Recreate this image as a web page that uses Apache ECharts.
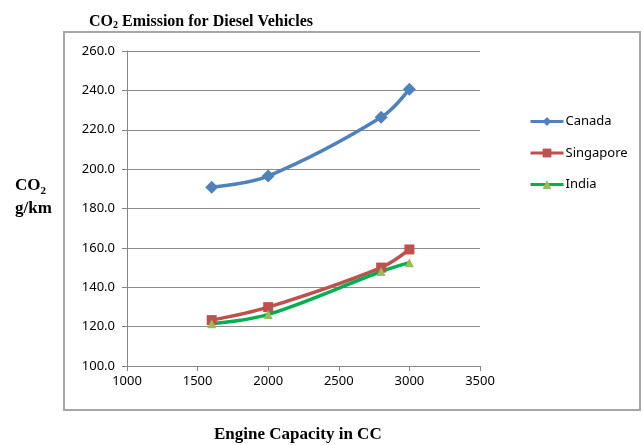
<!DOCTYPE html>
<html>
<head>
<meta charset="utf-8">
<script src="https://cdn.jsdelivr.net/npm/echarts@6/dist/echarts.min.js"></script>
<style>
  html, body { margin: 0; padding: 0; background: #fff; }
  #chart { width: 644px; height: 445px; }
</style>
</head>
<body>
<div id="chart"></div>
<script>
// Engine capacity (cc) and CO2 emissions (g/km) per country
const engineCC = [1600, 2000, 2800, 3000];
const canada = [190.8, 196.5, 226.3, 240.6];
const singapore = [123.3, 129.9, 150.0, 159.2];
const india = [121.5, 126.2, 148.0, 152.5];
const seriesNames = ['Canada', 'Singapore', 'India'];

function pairs(vals) {
  return engineCC.map((x, i) => [x, vals[i]]);
}

const serif = '"Liberation Serif", "Times New Roman", serif';
const sans = '"Noto Sans", "Open Sans", sans-serif';

const chart = echarts.init(document.getElementById('chart'), null, { renderer: 'canvas' });

chart.setOption({
  animation: false,
  backgroundColor: '#ffffff',
  title: {
    text: '{b|CO}{s|2}{b| Emission for Diesel Vehicles}',
    left: 84,
    top: 8,
    textStyle: {
      rich: {
        b: { fontFamily: serif, fontWeight: 'bold', fontSize: 16, color: '#000' },
        s: { fontFamily: serif, fontWeight: 'bold', fontSize: 10, color: '#000', verticalAlign: 'bottom', padding: [7, 0, 0, 0] }
      }
    }
  },
  graphic: [
    {
      type: 'rect',
      shape: { x: 64, y: 32, width: 576, height: 378 },
      style: { fill: 'none', stroke: '#a6a6a6', lineWidth: 2 },
      z: -1
    },
    {
      type: 'text',
      left: 15,
      top: 177,
      style: {
        text: '{b|CO}{s|2}\n{b|g/km}',
        align: 'center',
        rich: {
          b: { fontFamily: serif, fontWeight: 'bold', fontSize: 17, color: '#000', lineHeight: 23 },
          s: { fontFamily: serif, fontWeight: 'bold', fontSize: 11, color: '#000', verticalAlign: 'bottom', lineHeight: 23 }
        }
      }
    },
    {
      type: 'text',
      left: 214,
      top: 426,
      style: {
        text: 'Engine Capacity in CC',
        fontFamily: serif,
        fontWeight: 'bold',
        fontSize: 17,
        fill: '#000'
      }
    }
  ],
  legend: {
    orient: 'vertical',
    left: 524,
    top: 110,
    itemWidth: 33,
    itemHeight: 11,
    itemGap: 18.5,
    lineStyle: { width: 3 },
    textStyle: { fontFamily: sans, fontSize: 13, color: '#000', padding: [0, 0, 0, -3] },
    data: seriesNames
  },
  grid: {
    left: 127,
    right: 164,
    top: 51,
    bottom: 79,
    containLabel: false
  },
  xAxis: {
    type: 'value',
    min: 1000,
    max: 3500,
    interval: 500,
    axisLine: { show: true, lineStyle: { color: '#868686', width: 1 } },
    axisTick: { show: true, length: 5, lineStyle: { color: '#868686' } },
    axisLabel: { fontFamily: sans, fontSize: 13, color: '#000', margin: 9, formatter: v => String(v) },
    splitLine: { show: false }
  },
  yAxis: {
    type: 'value',
    min: 100,
    max: 260,
    interval: 20,
    axisLine: { show: true, lineStyle: { color: '#868686', width: 1 } },
    axisTick: { show: true, length: 5, lineStyle: { color: '#868686' } },
    axisLabel: {
      fontFamily: sans, fontSize: 13, color: '#000', margin: 12,
      formatter: v => v.toFixed(1)
    },
    splitLine: { show: true, lineStyle: { color: '#8c8c8c', width: 1 } }
  },
  series: [
    {
      name: seriesNames[0],
      type: 'line',
      data: pairs(canada),
      smooth: 0.35,
      symbol: 'diamond',
      symbolSize: 13,
      lineStyle: { color: '#4F81BD', width: 3.5 },
      itemStyle: { color: '#4F81BD' }
    },
    {
      name: seriesNames[1],
      type: 'line',
      data: pairs(singapore),
      smooth: 0.35,
      symbol: 'rect',
      symbolSize: 10,
      lineStyle: { color: '#C0504D', width: 3.5 },
      itemStyle: { color: '#C0504D' }
    },
    {
      name: seriesNames[2],
      type: 'line',
      data: pairs(india),
      smooth: 0.35,
      symbol: 'triangle',
      symbolSize: 9,
      lineStyle: { color: '#00B050', width: 3.5 },
      itemStyle: { color: '#9BBB59' }
    }
  ]
});
</script>
</body>
</html>
